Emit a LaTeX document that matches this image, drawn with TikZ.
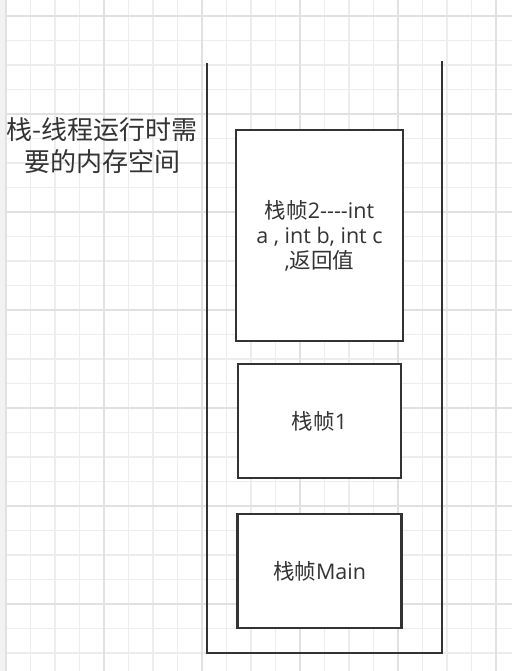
\documentclass[tikz,border=0pt]{standalone}
\usepackage{fontspec}
\setmainfont{Open Sans}[Ligatures=NoCommon]
\newfontfamily\cjk{Noto Sans CJK SC}
\definecolor{ink}{HTML}{333333}
\definecolor{gminor}{HTML}{EDEDED}
\definecolor{gmajor}{HTML}{E1E1E1}
\tikzset{
  gridminor/.style={draw=gminor, line width=1.4pt},
  gridmajor/.style={draw=gmajor, line width=1.6pt},
  framebox/.style={draw=ink, line width=2.8pt, fill=white, inner sep=0pt, align=center,
    text=ink, font=\fontsize{21.5}{25}\selectfont},
  wall/.style={draw=ink, line width=2.8pt},
  label/.style={text=ink, align=center, font=\fontsize{26}{32}\selectfont\cjk}
}
\begin{document}
\begin{tikzpicture}[x=1pt,y=-1pt]
\useasboundingbox (0,0) rectangle (512,671);
\fill[white] (0,0) rectangle (512,671);
\foreach \i in {0,...,20} {\draw[gridminor] ({6+24.5*\i},0) -- ({6+24.5*\i},671);}
\foreach \j in {0,...,27} {\draw[gridminor] (0,{16+24.5*\j}) -- (512,{16+24.5*\j});}
\foreach \i in {0,...,5} {\draw[gridmajor] ({6+98*\i},0) -- ({6+98*\i},671);}
\foreach \j in {0,...,6} {\draw[gridmajor] (0,{16+98*\j}) -- (512,{16+98*\j});}
\fill[gray!10] (0,0) rectangle (5,671);

\coordinate (tl) at (207,63);
\coordinate (bl) at (207,653);
\coordinate (br) at (442,653);
\coordinate (tr) at (442,61);
\draw[wall] (tl) -- (bl) -- (br) -- (tr);

\node[label] (title) at (102,146) {栈-线程运行时需\\要的内存空间};

\node[framebox, minimum width=167pt, minimum height=211pt] (f2) at (319.5,235.5)
  {{\cjk 栈帧}2{-}{-}{-}{-}int\\a , int b, int c\\,{\cjk 返回值}};
\node[framebox, minimum width=163pt, minimum height=114pt] (f1) at (319.5,421) {{\cjk 栈帧}1};
\node[framebox, minimum width=164pt, minimum height=114pt] (fm) at (319.5,571) {{\cjk 栈帧}Main};
\end{tikzpicture}
\end{document}
